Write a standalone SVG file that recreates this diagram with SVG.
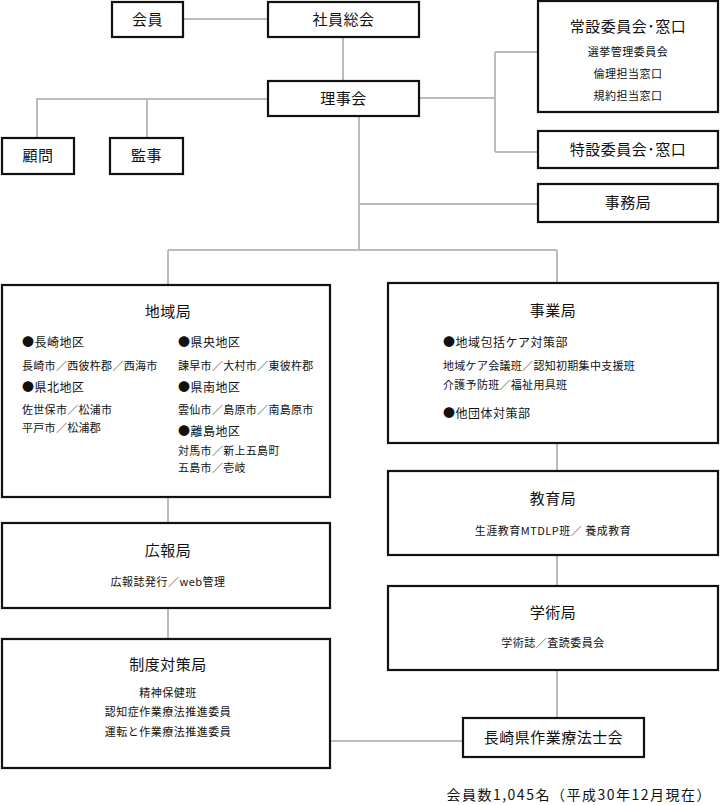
<svg xmlns="http://www.w3.org/2000/svg" width="720" height="805" viewBox="0 0 720 805">
<style>
.b{fill:#fff;stroke:#111;stroke-width:2.2}
.c{fill:none;stroke:#bbb;stroke-width:2}
text{font-family:"Noto Sans CJK JP","Noto Sans",sans-serif;fill:#111}
.t{font-size:15px;text-anchor:middle;letter-spacing:0.5px}
.s{font-size:11px;letter-spacing:0.3px}
.m{font-size:11px;text-anchor:middle;letter-spacing:0.5px}
.h{font-size:12px;letter-spacing:0.5px}
</style>
<rect width="720" height="805" fill="#fff"/>
<g id="connectors">
<path class="c" d="M183 19H268M343 37V81M268 99H37V138M147 99V138M419 98H495M495 52V152M495 52H538M495 152H538M359 116V250M359 204H538M168 250H557M168 250V285M557 250V283M168 497V523M168 608V639M557 443V471M557 555V586M557 670V718M330 741H463"/>
</g>
<g id="kaiin"><rect class="b" x="112" y="2" width="71" height="35"/><text class="t" x="147.5" y="25">会員</text></g>
<g id="shain"><rect class="b" x="268" y="2" width="151" height="35"/><text class="t" x="343.5" y="25">社員総会</text></g>
<g id="rijikai"><rect class="b" x="268" y="81" width="151" height="35"/><text class="t" x="343.5" y="104">理事会</text></g>
<g id="jousetsu"><rect class="b" x="538" y="1" width="180" height="111"/><text class="t" x="628" y="32">常設委員会･窓口</text><text class="m" x="628" y="56">選挙管理委員会</text><text class="m" x="628" y="78">倫理担当窓口</text><text class="m" x="628" y="100">規約担当窓口</text></g>
<g id="komon"><rect class="b" x="2" y="138" width="72" height="36"/><text class="t" x="38" y="161">顧問</text></g>
<g id="kanji"><rect class="b" x="110" y="138" width="73" height="36"/><text class="t" x="146.5" y="161">監事</text></g>
<g id="tokusetsu"><rect class="b" x="538" y="131" width="180" height="37"/><text class="t" x="628" y="155">特設委員会･窓口</text></g>
<g id="jimukyoku"><rect class="b" x="538" y="184" width="180" height="38"/><text class="t" x="628" y="208">事務局</text></g>
<g id="chiiki"><rect class="b" x="2" y="285" width="328" height="212"/><text class="t" x="168" y="317">地域局</text>
<text class="h" x="22" y="347">●長崎地区</text><text class="s" x="22" y="370">長崎市／西彼杵郡／西海市</text>
<text class="h" x="22" y="392">●県北地区</text><text class="s" x="22" y="414">佐世保市／松浦市</text><text class="s" x="22" y="432">平戸市／松浦郡</text>
<text class="h" x="178" y="347">●県央地区</text><text class="s" x="178" y="370">諫早市／大村市／東彼杵郡</text>
<text class="h" x="178" y="392">●県南地区</text><text class="s" x="178" y="414">雲仙市／島原市／南島原市</text>
<text class="h" x="178" y="436">●離島地区</text><text class="s" x="178" y="455">対馬市／新上五島町</text><text class="s" x="178" y="472">五島市／壱岐</text></g>
<g id="jigyou"><rect class="b" x="388" y="283" width="330" height="160"/><text class="t" x="553" y="316">事業局</text>
<text class="h" x="443" y="347">●地域包括ケア対策部</text><text class="s" x="443" y="370">地域ケア会議班／認知初期集中支援班</text><text class="s" x="443" y="389">介護予防班／福祉用具班</text><text class="h" x="443" y="418">●他団体対策部</text></g>
<g id="kouhou"><rect class="b" x="2" y="523" width="328" height="85"/><text class="t" x="168" y="556">広報局</text><text class="m" x="168" y="586">広報誌発行／web管理</text></g>
<g id="seido"><rect class="b" x="2" y="639" width="328" height="129"/><text class="t" x="168" y="670">制度対策局</text><text class="m" x="168" y="697">精神保健班</text><text class="m" x="168" y="716">認知症作業療法推進委員</text><text class="m" x="168" y="736">運転と作業療法推進委員</text></g>
<g id="kyouiku"><rect class="b" x="388" y="471" width="330" height="84"/><text class="t" x="553" y="504">教育局</text><text class="m" x="553" y="535">生涯教育MTDLP班／ 養成教育</text></g>
<g id="gakujutsu"><rect class="b" x="388" y="586" width="330" height="84"/><text class="t" x="553" y="618">学術局</text><text class="m" x="553" y="647">学術誌／査読委員会</text></g>
<g id="kenkai"><rect class="b" x="463" y="718" width="181" height="39"/><text class="t" x="553.5" y="743">長崎県作業療法士会</text></g>
<text x="712" y="800" style="font-size:14px;text-anchor:end;letter-spacing:1.5px">会員数1,045名（平成30年12月現在）</text>
</svg>
